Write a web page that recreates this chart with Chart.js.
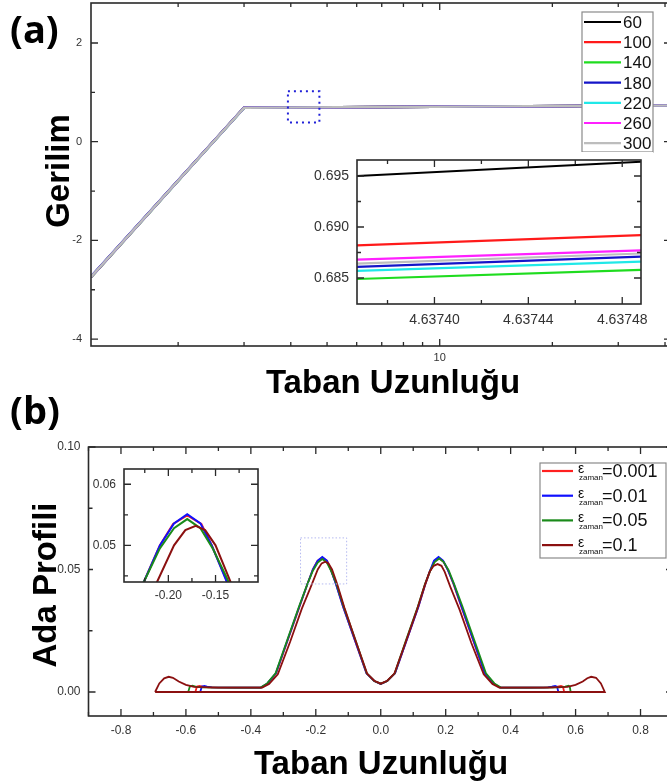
<!DOCTYPE html>
<html>
<head>
<meta charset="utf-8">
<script src="https://cdn.jsdelivr.net/npm/chart.js@4.4.1/dist/chart.umd.min.js"></script>
<style>
  html, body { margin: 0; padding: 0; background: #fff; overflow: hidden; width: 667px; height: 784px; }
  canvas { position: absolute; }
  .panel { position: absolute; font-family: "Open Sans", sans-serif; font-weight: bold; font-size: 38px; line-height: 1; color: #000; }
  .title { position: absolute; font-family: "Liberation Sans", Arial, sans-serif; font-weight: bold; font-size: 33px; line-height: 1; white-space: nowrap; color: #000; }
</style>
</head>
<body>
<canvas id="chartA" width="690" height="392" style="left:0;top:0"></canvas>
<canvas id="insetA" width="348" height="176" style="left:305px;top:152px;background:#fff"></canvas>
<canvas id="chartB" width="690" height="392" style="left:0;top:392px"></canvas>
<canvas id="insetB" width="172" height="140" style="left:93px;top:462px;background:#fff"></canvas>

<div class="panel" style="left:10px;top:9px">(a)</div>
<div class="panel" style="left:10px;top:390px">(b)</div>
<div class="title" style="left:57px;top:171px;transform:translate(-50%,-50%) rotate(-90deg)">Gerilim</div>
<div class="title" style="left:393px;top:365px;transform:translateX(-50%)">Taban Uzunluğu</div>
<div class="title" style="left:44px;top:585px;transform:translate(-50%,-50%) rotate(-90deg)">Ada Profili</div>
<div class="title" style="left:381px;top:746px;transform:translateX(-50%)">Taban Uzunluğu</div>

<script>
// ---------- panel (a) ----------
const aNames = ['60', '100', '140', '180', '220', '260', '300'];
const aColors = ['#000000', '#ff1a1a', '#1fdc1f', '#1414c8', '#20e8e8', '#ff20ff', '#bdbdbd'];
const aX = [1.17, 3.0, 41.5];
const aY60 = [-2.745, 0.688, 0.733];
const aY100 = [-2.742, 0.687, 0.732];
const aY140 = [-2.744, 0.686, 0.731];
const aY180 = [-2.735, 0.687, 0.732];
const aY220 = [-2.738, 0.686, 0.731];
const aY260 = [-2.741, 0.687, 0.732];
const aY300 = [-2.74, 0.686, 0.732];
const aXTicks = [2, 3, 4, 5, 6, 7, 8, 9, 10, 20, 30, 40];
const aXTickLabels = ['', '', '', '', '', '', '', '', '10', '', '', ''];
const aYTicks = [-4, -3, -2, -1, 0, 1, 2];
const aYTickLabels = ['-4', '', '-2', '', '0', '', '2'];

// inset of (a)
const insAX = [4.637367, 4.637488];
const insA60 = [0.6950, 0.6964];
const insA100 = [0.6882, 0.6892];
const insA140 = [0.6849, 0.6858];
const insA180 = [0.6861, 0.6871];
const insA220 = [0.6857, 0.6866];
const insA260 = [0.6868, 0.6877];
const insA300 = [0.6864, 0.6874];
const insAXTicks = [4.63738, 4.63740, 4.63742, 4.63744, 4.63746, 4.63748];
const insAXTickLabels = ['', '4.63740', '', '4.63744', '', '4.63748'];
const insAYTicks = [0.685, 0.6875, 0.690, 0.6925, 0.695];
const insAYTickLabels = ['0.685', '', '0.690', '', '0.695'];

// ---------- panel (b) ----------
const bNames = ['0.001', '0.01', '0.05', '0.1'];
const bColors = ['#ff2020', '#1010ff', '#1a8a1a', '#8b1010'];
const redX = [-0.571, -0.566, -0.558, -0.548, -0.53, -0.45, -0.368, -0.348, -0.322, -0.286, -0.25, -0.226, -0.209, -0.195, -0.18, -0.165, -0.154, -0.1375, -0.116, -0.08, -0.044, -0.02, 0, 0.02, 0.044, 0.08, 0.116, 0.1375, 0.154, 0.165, 0.178, 0.192, 0.206, 0.224, 0.248, 0.284, 0.32, 0.346, 0.367, 0.45, 0.53, 0.545, 0.555, 0.561, 0.565, -0.571];
const redY = [0, 0.0022, 0.0025, 0.0022, 0.0019, 0.0018, 0.0018, 0.0035, 0.0076, 0.0212, 0.0348, 0.044, 0.050, 0.0535, 0.0549, 0.0535, 0.050, 0.044, 0.0348, 0.0212, 0.0076, 0.0045, 0.0033, 0.0045, 0.0076, 0.0212, 0.0348, 0.044, 0.050, 0.0534, 0.0548, 0.0534, 0.050, 0.044, 0.0348, 0.0212, 0.0076, 0.0035, 0.0018, 0.0018, 0.0019, 0.0022, 0.0025, 0.0022, 0, 0];
const blueX = [-0.556, -0.551, -0.543, -0.535, -0.52, -0.45, -0.369, -0.349, -0.323, -0.287, -0.251, -0.226, -0.209, -0.194, -0.18, -0.166, -0.154, -0.138, -0.116, -0.08, -0.044, -0.02, 0, 0.02, 0.044, 0.08, 0.116, 0.137, 0.153, 0.164, 0.178, 0.192, 0.206, 0.225, 0.249, 0.285, 0.321, 0.347, 0.368, 0.45, 0.515, 0.527, 0.537, 0.543, 0.547, -0.556];
const blueY = [0, 0.0022, 0.0025, 0.0022, 0.0019, 0.0018, 0.0018, 0.0035, 0.0076, 0.0212, 0.0348, 0.044, 0.050, 0.0536, 0.0551, 0.0536, 0.050, 0.044, 0.0348, 0.0212, 0.0076, 0.0045, 0.0033, 0.0045, 0.0076, 0.0212, 0.0348, 0.044, 0.050, 0.0536, 0.0551, 0.0536, 0.050, 0.044, 0.0348, 0.0212, 0.0076, 0.0035, 0.0018, 0.0018, 0.0019, 0.0022, 0.0025, 0.0022, 0, 0];
const greenX = [-0.593, -0.588, -0.58, -0.57, -0.55, -0.45, -0.37, -0.35, -0.324, -0.288, -0.252, -0.226, -0.209, -0.194, -0.18, -0.166, -0.153, -0.136, -0.114, -0.078, -0.043, -0.02, 0, 0.02, 0.043, 0.078, 0.114, 0.136, 0.153, 0.166, 0.18, 0.194, 0.209, 0.226, 0.252, 0.288, 0.324, 0.35, 0.37, 0.45, 0.55, 0.568, 0.578, 0.582, 0.585, -0.593];
const greenY = [0, 0.0022, 0.0026, 0.0022, 0.0019, 0.0018, 0.0018, 0.0035, 0.0076, 0.0212, 0.0348, 0.044, 0.0495, 0.0528, 0.0543, 0.0528, 0.0495, 0.044, 0.0348, 0.0212, 0.0076, 0.0045, 0.0034, 0.0045, 0.0076, 0.0212, 0.0348, 0.044, 0.0497, 0.053, 0.0545, 0.053, 0.0497, 0.044, 0.0348, 0.0212, 0.0076, 0.0035, 0.0018, 0.0018, 0.0019, 0.0022, 0.0026, 0.0022, 0, 0];
const darkX = [-0.695, -0.682, -0.667, -0.653, -0.64, -0.622, -0.6, -0.575, -0.5, -0.365, -0.344, -0.317, -0.279, -0.243, -0.212, -0.194, -0.182, -0.171, -0.161, -0.15, -0.134, -0.112, -0.077, -0.042, -0.02, 0, 0.02, 0.042, 0.077, 0.112, 0.134, 0.15, 0.163, 0.175, 0.187, 0.197, 0.214, 0.243, 0.279, 0.317, 0.344, 0.365, 0.5, 0.575, 0.6, 0.622, 0.636, 0.648, 0.663, 0.678, 0.69, -0.695];
const darkY = [0, 0.0035, 0.0056, 0.0062, 0.0058, 0.0043, 0.0029, 0.0021, 0.0018, 0.0018, 0.0033, 0.0072, 0.0205, 0.034, 0.044, 0.05, 0.0525, 0.0532, 0.0525, 0.05, 0.044, 0.0345, 0.0208, 0.0075, 0.0046, 0.0034, 0.0046, 0.0075, 0.0205, 0.0338, 0.043, 0.049, 0.0515, 0.0522, 0.0515, 0.049, 0.043, 0.0335, 0.02, 0.0072, 0.0033, 0.0018, 0.0018, 0.0021, 0.0029, 0.0043, 0.0056, 0.0062, 0.0058, 0.0035, 0, 0];
const bXTicks = [-0.9, -0.8, -0.7, -0.6, -0.5, -0.4, -0.3, -0.2, -0.1, 0, 0.1, 0.2, 0.3, 0.4, 0.5, 0.6, 0.7, 0.8, 0.9];
const bXTickLabels = ['', '-0.8', '', '-0.6', '', '-0.4', '', '-0.2', '', '0.0', '', '0.2', '', '0.4', '', '0.6', '', '0.8', ''];
const bYTicks = [0, 0.025, 0.05, 0.075, 0.10];
const bYTickLabels = ['0.00', '', '0.05', '', '0.10'];

// inset of (b)
const insBXTicks = [-0.225, -0.20, -0.175, -0.15, -0.125];
const insBXTickLabels = ['', '-0.20', '', '-0.15', ''];
const insBYTicks = [0.045, 0.05, 0.055, 0.06];
const insBYTickLabels = ['', '0.05', '', '0.06'];

function pts(xs, ys) {
    return xs.map((x, i) => ({ x: x, y: ys[i] }));
}

// box frame with inward ticks on all four sides (Origin look)
const framePlugin = {
    id: 'frame',
    afterDatasetsDraw(chart) {
        const { ctx, chartArea: a, scales } = chart;
        ctx.save();
        ctx.strokeStyle = '#2a2a2a';
        ctx.lineWidth = 1.6;
        ctx.strokeRect(a.left, a.top, a.right - a.left, a.bottom - a.top);
        ctx.lineWidth = 1.3;
        ctx.beginPath();
        scales.x.ticks.forEach((t) => {
            const p = scales.x.getPixelForValue(t.value);
            const len = t.label ? 7 : 4;
            ctx.moveTo(p, a.bottom); ctx.lineTo(p, a.bottom - len);
            ctx.moveTo(p, a.top); ctx.lineTo(p, a.top + len);
        });
        scales.y.ticks.forEach((t) => {
            const p = scales.y.getPixelForValue(t.value);
            const len = t.label ? 7 : 4;
            ctx.moveTo(a.left, p); ctx.lineTo(a.left + len, p);
            ctx.moveTo(a.right, p); ctx.lineTo(a.right - len, p);
        });
        ctx.stroke();
        ctx.restore();
    }
};

// dotted zoom box, given in data units
const zoomBoxPlugin = {
    id: 'zoomBox',
    afterDatasetsDraw(chart, args, opts) {
        if (!opts || opts.x0 === undefined) return;
        const { ctx, scales } = chart;
        const x0 = scales.x.getPixelForValue(opts.x0), x1 = scales.x.getPixelForValue(opts.x1);
        const y0 = scales.y.getPixelForValue(opts.y0), y1 = scales.y.getPixelForValue(opts.y1);
        ctx.save();
        ctx.strokeStyle = opts.color;
        ctx.lineWidth = opts.width;
        ctx.setLineDash(opts.dash);
        ctx.strokeRect(x0, y1, x1 - x0, y0 - y1);
        ctx.restore();
    }
};

// legend box drawn inside the plot
const boxLegendPlugin = {
    id: 'boxLegend',
    afterDraw(chart, args, opts) {
        if (!opts || opts.left === undefined) return;
        const ctx = chart.ctx;
        ctx.save();
        ctx.fillStyle = '#fff';
        ctx.fillRect(opts.left, opts.top, opts.width, opts.height);
        ctx.strokeStyle = '#8a8a8a';
        ctx.lineWidth = 1.2;
        ctx.strokeRect(opts.left, opts.top, opts.width, opts.height);
        chart.data.datasets.forEach((ds, i) => {
            const y = opts.firstRow + i * opts.rowH;
            ctx.strokeStyle = ds.borderColor;
            ctx.lineWidth = 2.2;
            ctx.beginPath();
            ctx.moveTo(opts.lineX0, y);
            ctx.lineTo(opts.lineX1, y);
            ctx.stroke();
            ctx.fillStyle = '#111';
            ctx.textBaseline = 'alphabetic';
            ctx.textAlign = 'left';
            if (opts.eps) {
                ctx.font = '14px "Liberation Sans", Arial';
                ctx.fillText('ε', opts.textX, y + 2);
                ctx.font = '8px "Liberation Sans", Arial';
                ctx.fillText('zaman', opts.textX + 1, y + 9);
                ctx.font = '18px "Liberation Sans", Arial';
                ctx.fillText('=' + ds.label, opts.textX + 24, y + 6);
            } else {
                ctx.font = '17px "Liberation Sans", Arial';
                ctx.fillText(ds.label, opts.textX, y + 6);
            }
        });
        ctx.restore();
    }
};

function makeScale(type, min, max, ticks, labels, fontSize, pad, fitSize) {
    return {
        type: type,
        min: min,
        max: max,
        grid: { display: false, drawTicks: false },
        border: { display: false },
        ticks: {
            autoSkip: false,
            maxRotation: 0,
            padding: pad,
            color: '#333',
            font: { family: '"Liberation Sans", Arial', size: fontSize },
            callback: (v, i) => labels[i]
        },
        afterBuildTicks: (s) => { s.ticks = ticks.map((v) => ({ value: v })); },
        afterFit: (s) => {
            if (s.isHorizontal()) s.height = fitSize;
            else s.width = fitSize;
            // keep tick label overhang from moving the plot box
            s.paddingTop = 0; s.paddingBottom = 0; s.paddingLeft = 0; s.paddingRight = 0;
        }
    };
}

function baseOptions(padding, xScale, yScale, pluginOpts) {
    return {
        responsive: false,
        animation: false,
        events: [],
        layout: { padding: padding },
        scales: { x: xScale, y: yScale },
        plugins: Object.assign({ legend: { display: false }, tooltip: { enabled: false } }, pluginOpts)
    };
}

function lineSet(label, data, color, width, order) {
    return {
        label: label,
        data: data,
        borderColor: color,
        backgroundColor: color,
        borderWidth: width,
        pointRadius: 0,
        showLine: true,
        tension: 0,
        order: order
    };
}

// ---------- chart (a) ----------
const aYs = [aY60, aY100, aY140, aY180, aY220, aY260, aY300];
const aOrder = [6, 4, 5, 1, 3, 2, 0];
new Chart(document.getElementById('chartA'), {
    type: 'scatter',
    data: {
        datasets: aNames.map((n, i) => lineSet(n, pts(aX, aYs[i]), aColors[i], 2.5, aOrder[i]))
    },
    options: baseOptions(
        { left: 0, top: 3, right: 19, bottom: 0 },
        makeScale('logarithmic', 1.17, 41.5, aXTicks, aXTickLabels, 11, 5, 46),
        makeScale('linear', -4.14, 2.81, aYTicks, aYTickLabels, 11, 9, 91),
        {
            zoomBox: { x0: 3.93, x1: 4.77, y0: 0.39, y1: 1.02, color: '#2020d8', width: 2, dash: [2, 4] },
            boxLegend: { left: 582, top: 12, width: 71, height: 140, firstRow: 22, rowH: 20.2, lineX0: 584, lineX1: 621, textX: 623 }
        }
    ),
    plugins: [framePlugin, zoomBoxPlugin, boxLegendPlugin]
});

const insAYs = [insA60, insA100, insA140, insA180, insA220, insA260, insA300];
new Chart(document.getElementById('insetA'), {
    type: 'scatter',
    data: {
        datasets: aNames.map((n, i) => lineSet(n, pts(insAX, insAYs[i]), aColors[i], 2.2, i))
    },
    options: baseOptions(
        { left: 0, top: 8, right: 12, bottom: 0 },
        makeScale('linear', 4.637367, 4.637488, insAXTicks, insAXTickLabels, 14, 8, 24),
        makeScale('linear', 0.68245, 0.69657, insAYTicks, insAYTickLabels, 14, 8, 52),
        {}
    ),
    plugins: [framePlugin]
});

// ---------- chart (b) ----------
const bXs = [redX, blueX, greenX, darkX];
const bYs = [redY, blueY, greenY, darkY];
const bOrder = [3, 2, 1, 0];
new Chart(document.getElementById('chartB'), {
    type: 'scatter',
    data: {
        datasets: bNames.map((n, i) => lineSet(n, pts(bXs[i], bYs[i]), bColors[i], 1.8, bOrder[i]))
    },
    options: baseOptions(
        { left: 0, top: 55, right: 17, bottom: 0 },
        makeScale('linear', -0.9, 0.9, bXTicks, bXTickLabels, 12, 7, 68),
        makeScale('linear', -0.0098, 0.10, bYTicks, bYTickLabels, 12, 8, 88.5),
        {
            zoomBox: { x0: -0.247, x1: -0.105, y0: 0.0441, y1: 0.0629, color: '#b4b9f0', width: 1, dash: [1.5, 2] },
            boxLegend: { left: 540, top: 71, width: 126, height: 95, firstRow: 79, rowH: 24.7, lineX0: 542, lineX1: 573, textX: 578, eps: true }
        }
    ),
    plugins: [framePlugin, zoomBoxPlugin, boxLegendPlugin]
});

new Chart(document.getElementById('insetB'), {
    type: 'scatter',
    data: {
        datasets: bNames.map((n, i) => lineSet(n, pts(bXs[i], bYs[i]), bColors[i], 2, bOrder[i]))
    },
    options: baseOptions(
        { left: 0, top: 7, right: 7, bottom: 0 },
        makeScale('linear', -0.247, -0.105, insBXTicks, insBXTickLabels, 12, 6, 20),
        makeScale('linear', 0.0440, 0.0625, insBYTicks, insBYTickLabels, 12, 8, 31),
        {}
    ),
    plugins: [framePlugin]
});
</script>
</body>
</html>
